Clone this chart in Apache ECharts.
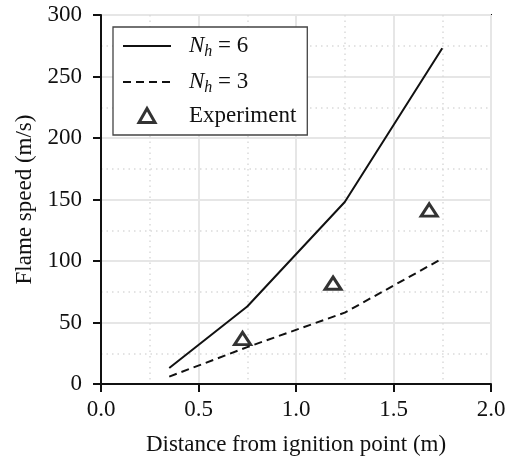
<!DOCTYPE html>
<html><head><meta charset="utf-8">
<script src="https://cdn.jsdelivr.net/npm/echarts@6/dist/echarts.min.js"></script>
<style>html,body{margin:0;padding:0;background:#fff}#c{width:508px;height:459px}</style>
</head><body><div id="c"></div>
<script>
const xTicks = [0, 0.5, 1.0, 1.5, 2.0];
const yTicks = [0, 50, 100, 150, 200, 250, 300];
const distance = [0.35, 0.75, 1.25, 1.75];
const speedNh6 = [13, 63, 148, 273];
const speedNh3 = [6, 30, 58, 102];
const expDistance = [0.726, 1.19, 1.683];
const expSpeed = [37, 82, 141.5];

const FONT = "'Liberation Serif', 'DejaVu Serif', serif";
const FS = 23;
const chart = echarts.init(document.getElementById('c'), null, {renderer: 'canvas'});
const pair = (xs, ys) => xs.map((x, i) => [x, ys[i]]);
const legendMap = {
  'Nh6': '{i|N}{s|h}{n| = 6}',
  'Nh3': '{i|N}{s|h}{n| = 3}',
  'Experiment': '{n|Experiment}'
};
const TRI = 'path://M8,0L16,14L0,14Z';
const gridBox = {left: 101, right: 17, top: 15, bottom: 75};
const baseX = {
  type: 'value', min: xTicks[0], max: xTicks[xTicks.length - 1], interval: 0.5,
  gridIndex: 0
};
const baseY = {
  type: 'value', min: yTicks[0], max: yTicks[yTicks.length - 1], interval: 50,
  gridIndex: 0
};
chart.setOption({
  animation: false,
  backgroundColor: '#fff',
  grid: Object.assign({show: true, borderColor: '#111', borderWidth: 2, backgroundColor: 'transparent',
    containLabel: false, outerBoundsMode: 'none'}, gridBox),
  xAxis: [
    Object.assign({}, baseX, {
      name: 'Distance from ignition point (m)', nameLocation: 'middle', nameGap: 49,
      nameTextStyle: {fontFamily: FONT, fontSize: FS, color: '#111'},
      axisLine: {show: true, onZero: false, lineStyle: {color: '#111', width: 2}},
      axisTick: {show: true, inside: false, length: 8, lineStyle: {color: '#111', width: 2}},
      axisLabel: {fontFamily: FONT, fontSize: FS, color: '#111', margin: 14,
        formatter: v => v.toFixed(1)},
      splitLine: {show: true, lineStyle: {color: '#e6e6e6', width: 2}},
      minorTick: {show: false, splitNumber: 2},
      minorSplitLine: {show: true, lineStyle: {color: '#dadada', width: 1.5, type: [1.5, 4]}}
    }),
    Object.assign({}, baseX, {
      axisLine: {show: false}, axisLabel: {show: false}, splitLine: {show: false},
      axisTick: {show: true, inside: true, length: 3, lineStyle: {color: '#111', width: 2}}
    })
  ],
  yAxis: [
    Object.assign({}, baseY, {
      name: 'Flame speed (m/s)', nameLocation: 'middle', nameGap: 64,
      nameTextStyle: {fontFamily: FONT, fontSize: FS, color: '#111'},
      axisLine: {show: true, onZero: false, lineStyle: {color: '#111', width: 2}},
      axisTick: {show: true, inside: false, length: 8, lineStyle: {color: '#111', width: 2}},
      axisLabel: {fontFamily: FONT, fontSize: FS, color: '#111', margin: 19},
      splitLine: {show: true, lineStyle: {color: '#e6e6e6', width: 2}},
      minorTick: {show: false, splitNumber: 2},
      minorSplitLine: {show: true, lineStyle: {color: '#dadada', width: 1.5, type: [1.5, 4]}}
    }),
    Object.assign({}, baseY, {
      axisLine: {show: false}, axisLabel: {show: false}, splitLine: {show: false},
      axisTick: {show: true, inside: true, length: 3, lineStyle: {color: '#111', width: 2}}
    })
  ],
  legend: {
    orient: 'vertical', left: 113, top: 27,
    padding: [5, 11, 8, 9],
    itemGap: 8,
    itemWidth: 48, itemHeight: 14,
    symbolKeepAspect: true,
    backgroundColor: '#fff',
    borderColor: '#444', borderWidth: 1.3, borderRadius: 0,
    data: [
      {name: 'Nh6', itemStyle: {opacity: 0}},
      {name: 'Nh3', itemStyle: {opacity: 0}},
      {name: 'Experiment', icon: TRI, itemStyle: {color: 'transparent', borderColor: '#000', borderWidth: 3}}
    ],
    formatter: n => legendMap[n],
    textStyle: {
      fontFamily: FONT, fontSize: FS, color: '#111', padding: [0, 0, 0, 13],
      rich: {
        i: {fontFamily: FONT, fontStyle: 'italic', fontSize: FS, color: '#111', lineHeight: 24},
        s: {fontFamily: FONT, fontStyle: 'italic', fontSize: 16, color: '#111', lineHeight: 24, padding: [12, 0, 0, 0]},
        n: {fontFamily: FONT, fontSize: FS, color: '#111', lineHeight: 24}
      }
    }
  },
  series: [
    {
      name: 'Nh6', type: 'line', data: pair(distance, speedNh6),
      symbol: 'none', lineStyle: {color: '#111', width: 2}, itemStyle: {color: '#111'}
    },
    {
      name: 'Nh3', type: 'line', data: pair(distance, speedNh3),
      symbol: 'none', lineStyle: {color: '#111', width: 2, type: [8, 5]}, itemStyle: {color: '#111'}
    },
    {
      name: 'Experiment', type: 'scatter', data: pair(expDistance, expSpeed),
      symbol: TRI, symbolSize: [16, 14], symbolKeepAspect: true,
      itemStyle: {color: 'transparent', borderColor: '#000', borderWidth: 3}
    }
  ]
});
</script></body></html>
